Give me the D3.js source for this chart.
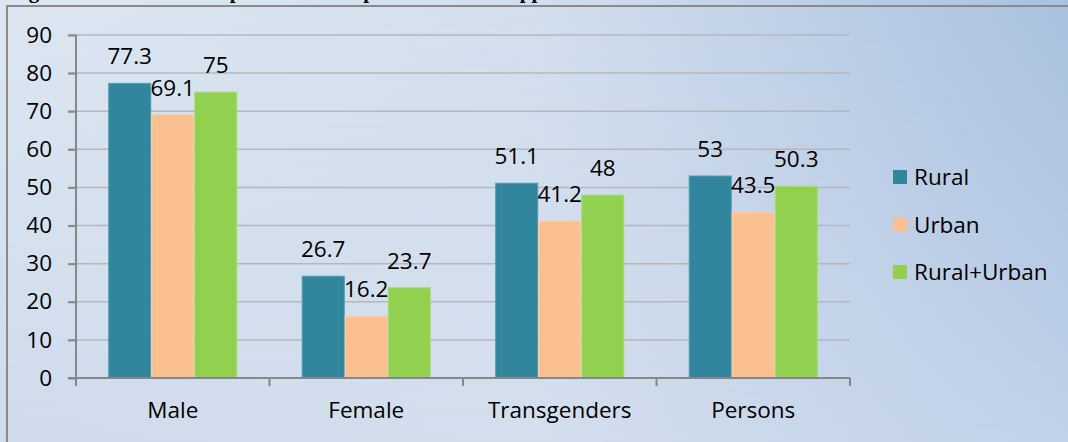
<!DOCTYPE html>
<html><head><meta charset="utf-8">
<script src="https://cdn.jsdelivr.net/npm/d3@7"></script>
<style>html,body{margin:0;padding:0;overflow:hidden;}svg{display:block;}</style>
</head><body>
<script>
const categories = ["Male", "Female", "Transgenders", "Persons"];
const seriesNames = ["Rural", "Urban", "Rural+Urban"];
const rural = [77.3, 26.7, 51.1, 53];
const urban = [69.1, 16.2, 41.2, 43.5];
const ruralUrban = [75, 23.7, 48, 50.3];
const yTicks = [0, 10, 20, 30, 40, 50, 60, 70, 80, 90];
const colors = ["#31859c", "#fac090", "#92d050"];
const strokes = ["#4c9cb2", "#fcd0ac", "#a8dc72"];

const W = 1068, H = 442;
const svg = d3.select("body").append("svg").attr("width", W).attr("height", H);
const defs = svg.append("defs");
const gTop = defs.append("linearGradient").attr("id", "bgTop").attr("x1", 0).attr("y1", 0).attr("x2", 1).attr("y2", 0);
gTop.append("stop").attr("offset", 0).attr("stop-color", "#dde7f3");
gTop.append("stop").attr("offset", 0.5).attr("stop-color", "#d3dfee");
gTop.append("stop").attr("offset", 1).attr("stop-color", "#a9c1df");
const gBot = defs.append("linearGradient").attr("id", "bgBot").attr("x1", 0).attr("y1", 0).attr("x2", 1).attr("y2", 0);
gBot.append("stop").attr("offset", 0).attr("stop-color", "#cfdbeb");
gBot.append("stop").attr("offset", 0.5).attr("stop-color", "#d3deed");
gBot.append("stop").attr("offset", 1).attr("stop-color", "#c0d1e8");
const gMask = defs.append("linearGradient").attr("id", "mg").attr("x1", 0).attr("y1", 0).attr("x2", 0).attr("y2", 1);
gMask.append("stop").attr("offset", 0).attr("stop-color", "#fff").attr("stop-opacity", 0);
gMask.append("stop").attr("offset", 1).attr("stop-color", "#fff").attr("stop-opacity", 1);
defs.append("mask").attr("id", "m").append("rect").attr("width", W).attr("height", H).attr("fill", "url(#mg)");
svg.append("rect").attr("width", W).attr("height", H).attr("fill", "url(#bgTop)");
svg.append("rect").attr("width", W).attr("height", H).attr("fill", "url(#bgBot)").attr("mask", "url(#m)");

// title (cut off at the top edge, as in the reference)
svg.append("text").attr("x", 10).attr("y", -2)
  .attr("font-family", "'Liberation Serif','DejaVu Serif',serif").attr("font-weight", "bold")
  .attr("font-size", 21).attr("fill", "#000")
  .text("Figure 3.5: Work Participation Rate as per usual status approach");

// frame
svg.append("rect").attr("x", 7).attr("y", 6).attr("width", W + 10).attr("height", H + 10)
  .attr("fill", "none").attr("stroke", "#8a8a8a").attr("stroke-width", 2);

const x0 = d3.scaleBand().domain(categories).range([76, 850]).paddingInner(0.333).paddingOuter(0.1665);
const x1 = d3.scaleBand().domain(seriesNames).range([0, x0.bandwidth()]);
const y = d3.scaleLinear().domain([0, 90]).range([378, 35]);

const font = "'Open Sans', 'Noto Sans', sans-serif";
const fs = 22.5;

// grid
svg.append("g").selectAll("line").data(yTicks.filter(d => d > 0)).join("line")
  .attr("x1", 68).attr("x2", 850).attr("y1", d => y(d)).attr("y2", d => y(d))
  .attr("stroke", "#b4b8bc").attr("stroke-width", 1.5);

// bars
const data = [rural, urban, ruralUrban];
const groups = svg.append("g").selectAll("g").data(categories).join("g")
  .attr("transform", c => `translate(${x0(c)},0)`);
groups.selectAll("rect").data((c, i) => seriesNames.map((s, j) => ({ s, j, v: data[j][i] }))).join("rect")
  .attr("x", d => x1(d.s) + 0.5).attr("width", x1.bandwidth() - 1)
  .attr("y", d => y(d.v)).attr("height", d => y(0) - y(d.v))
  .attr("fill", d => colors[d.j]).attr("stroke", d => strokes[d.j]).attr("stroke-width", 1);
groups.selectAll("text").data((c, i) => seriesNames.map((s, j) => ({ s, j, v: data[j][i] }))).join("text")
  .attr("x", d => x1(d.s) + x1.bandwidth() / 2).attr("y", d => y(d.v) - 19)
  .attr("text-anchor", "middle").attr("font-family", font).attr("font-size", fs).attr("fill", "#000")
  .text(d => d.v);

// y axis
const yAxis = d3.axisLeft(y).tickValues(yTicks).tickSize(8).tickPadding(16);
const ya = svg.append("g").attr("transform", "translate(76,0)").call(yAxis);
ya.select(".domain").attr("stroke", "#878787").attr("stroke-width", 2).attr("d", "M0,35V378");
ya.selectAll(".tick line").attr("stroke", "#878787").attr("stroke-width", 2);
ya.selectAll(".tick text").attr("font-family", font).attr("font-size", fs).attr("fill", "#000");

// x axis
const xa = svg.append("g").attr("transform", "translate(0,378)");
xa.append("line").attr("x1", 68).attr("x2", 850).attr("stroke", "#878787").attr("stroke-width", 2);
const tickXs = d3.range(categories.length + 1).map(i => 76 + i * x0.step());
xa.selectAll("line.t").data(tickXs).join("line").attr("class", "t")
  .attr("x1", d => d).attr("x2", d => d).attr("y1", 0).attr("y2", 8)
  .attr("stroke", "#878787").attr("stroke-width", 2);
xa.selectAll("text").data(categories).join("text")
  .attr("x", c => x0(c) + x0.bandwidth() / 2).attr("y", 40)
  .attr("text-anchor", "middle").attr("font-family", font).attr("font-size", fs).attr("fill", "#000")
  .text(c => c);

// legend
const leg = svg.append("g").selectAll("g").data(seriesNames).join("g")
  .attr("transform", (d, i) => `translate(893,${177 + i * 47.5})`);
leg.append("rect").attr("x", 0).attr("y", -7).attr("width", 14).attr("height", 14)
  .attr("fill", (d, i) => colors[i]);
leg.append("text").attr("x", 21).attr("y", 8).attr("font-family", font).attr("font-size", fs)
  .attr("fill", "#000").text(d => d);
</script>
</body></html>
